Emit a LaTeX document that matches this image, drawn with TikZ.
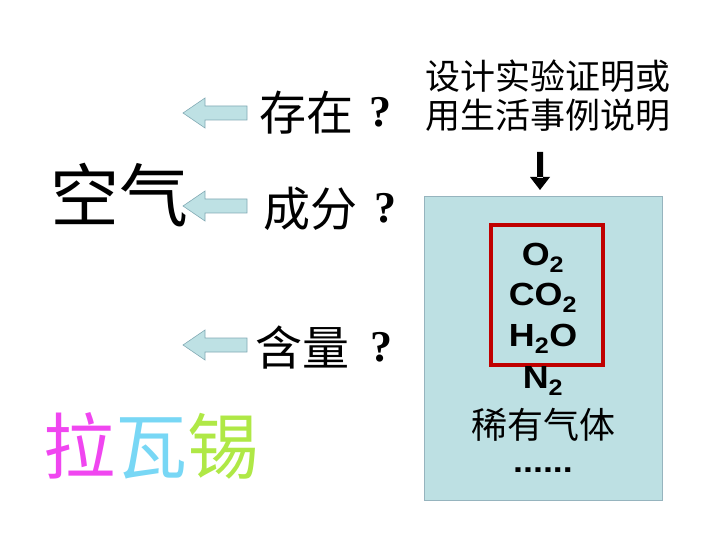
\documentclass[tikz,border=0pt]{standalone}
\usepackage{fontspec}
\setmainfont{Liberation Sans}
\newfontfamily\cjk{Noto Sans CJK SC}
\newfontfamily\qser{Liberation Serif}
\definecolor{boxfill}{RGB}{189,224,227}
\definecolor{boxline}{RGB}{150,180,190}
\definecolor{arrfill}{RGB}{190,225,228}
\definecolor{arrline}{RGB}{130,170,180}
\definecolor{redline}{RGB}{192,0,0}
\begin{document}
\begin{tikzpicture}[x=1pt,y=-1pt,
  larrow/.style={fill=arrfill,draw=arrline,line width=0.6pt},
  qtext/.style={font=\cjk\fontsize{47}{47}\selectfont,anchor=west,inner sep=0pt},
  qmark/.style={font=\qser\bfseries\fontsize{44}{44}\selectfont,inner sep=0pt},
  formula/.style={font=\bfseries\fontsize{32}{32}\selectfont,inner sep=0pt,xscale=1.12}]
\useasboundingbox (0,0) rectangle (720,540);
% left arrows
\foreach \yy in {113,206,345}{
  \draw[larrow] (183,\yy) -- (205,\yy-15) -- (205,\yy-7) -- (247,\yy-7) -- (247,\yy+7) -- (205,\yy+7) -- (205,\yy+15) -- cycle;
}
\node[qtext] (q1) at (259,113) {存在};
\node[qmark] (m1) at (380,112) {?};
\node[qtext] (q2) at (263,209) {成分};
\node[qmark] (m2) at (385,208) {?};
\node[qtext] (q3) at (255,348) {含量};
\node[qmark] (m3) at (381,347) {?};
\node[font=\cjk\fontsize{69}{69}\selectfont,inner sep=0pt] (air) at (119,195) {空气};
% Lavoisier
\node[font=\cjk\fontsize{72}{72}\selectfont,inner sep=0pt] (lav) at (151,446) {\textcolor[RGB]{240,70,240}{拉}\textcolor[RGB]{120,215,245}{瓦}\textcolor[RGB]{175,232,70}{锡}};
% instruction text
\node[font=\cjk\fontsize{35}{35}\selectfont,inner sep=0pt,align=center] (ins) at (548,96) {设计实验证明或\\[4pt]用生活事例说明};
% down arrow
\fill[black] (537,152) rectangle (543,178) (530,177) -- (550,177) -- (540,190) -- cycle;
% main box
\node[draw=boxline,fill=boxfill,line width=1pt,minimum width=238pt,minimum height=303pt,inner sep=0pt] (box) at (543,348.5) {};
\node[draw=redline,line width=3.5pt,minimum width=112pt,minimum height=140pt,inner sep=0pt] (red) at (547,295) {};
\node[formula] (o2) at (543,258) {O\textsubscript{2}};
\node[formula] (co2) at (543,298) {CO\textsubscript{2}};
\node[formula] (h2o) at (543,339) {H\textsubscript{2}O};
\node[formula] (n2) at (543,381) {N\textsubscript{2}};
\node[font=\cjk\fontsize{36}{36}\selectfont,inner sep=0pt] (rare) at (543,425) {稀有气体};
\node[formula] (dots) at (543,470) {......};
\end{tikzpicture}
\end{document}
